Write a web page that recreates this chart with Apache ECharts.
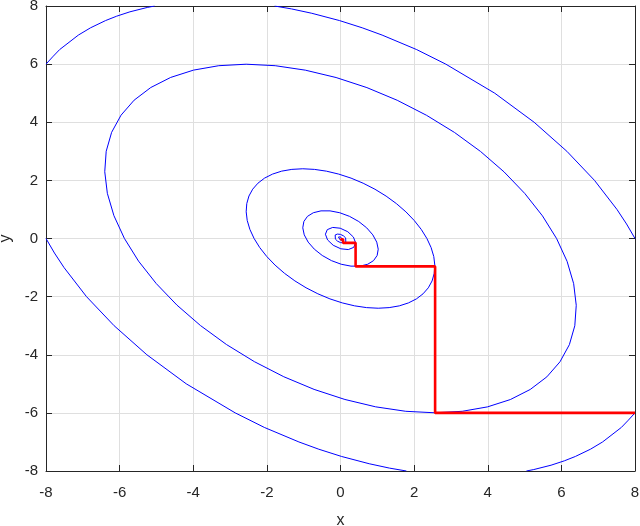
<!DOCTYPE html>
<html>
<head>
<meta charset="utf-8">
<title>Coordinate descent</title>
<script src="https://cdn.jsdelivr.net/npm/echarts@6/dist/echarts.min.js"></script>
<style>
  html, body { margin: 0; padding: 0; background: #fff; }
  #chart { width: 640px; height: 526px; }
</style>
</head>
<body>
<div id="chart"></div>
<script>
// axis ticks
const xTicks = [-8, -6, -4, -2, 0, 2, 4, 6, 8]
const yTicks = [-8, -6, -4, -2, 0, 2, 4, 6, 8]

// outermost level curve, cut into four arcs by the axes box
const outerArcA = [[8, 0], [7.77, 0.5], [7.51, 1], [6.9, 2], [6.15, 3], [5.26, 4], [4.19, 5], [2.86, 6], [2.07, 6.5], [1.13, 7], [0.59, 7.25], [-0.03, 7.5], [-0.78, 7.75], [-1.33, 7.9], [-1.79, 8]]
const outerArcB = [[8, -6], [7.82, -6.25], [7.63, -6.5], [7.12, -7], [6.79, -7.25], [6.38, -7.5], [6.08, -7.65], [5.72, -7.8], [5.25, -7.95], [5.05, -8]]
const outerArcC = [[-8, 0], [-7.77, -0.5], [-7.51, -1], [-6.9, -2], [-6.15, -3], [-5.26, -4], [-4.19, -5], [-2.86, -6], [-2.07, -6.5], [-1.13, -7], [-0.59, -7.25], [0.03, -7.5], [0.78, -7.75], [1.33, -7.9], [1.79, -8]]
const outerArcD = [[-8, 6], [-7.82, 6.25], [-7.63, 6.5], [-7.12, 7], [-6.79, 7.25], [-6.38, 7.5], [-6.08, 7.65], [-5.72, 7.8], [-5.25, 7.95], [-5.05, 8]]

// closed level curves, big to small
const level1 = [
  [5.606, -4.76], [5.962, -4.243], [6.217, -3.654], [6.365, -3.002], [6.404, -2.298], [6.334, -1.555],
  [6.155, -0.786], [5.871, -0.004], [5.486, 0.779], [5.007, 1.548], [4.443, 2.292], [3.803, 2.996],
  [3.098, 3.648], [2.339, 4.238], [1.541, 4.756], [0.717, 5.192], [-0.12, 5.539], [-0.955, 5.792],
  [-1.773, 5.946], [-2.562, 5.997], [-3.306, 5.946], [-3.993, 5.794], [-4.613, 5.542], [-5.154, 5.195],
  [-5.606, 4.76], [-5.962, 4.243], [-6.217, 3.654], [-6.365, 3.002], [-6.404, 2.298], [-6.334, 1.555],
  [-6.155, 0.786], [-5.871, 0.004], [-5.486, -0.779], [-5.007, -1.548], [-4.443, -2.292], [-3.803, -2.996],
  [-3.098, -3.648], [-2.339, -4.238], [-1.541, -4.756], [-0.717, -5.192], [0.12, -5.539], [0.955, -5.792],
  [1.773, -5.946], [2.562, -5.997], [3.306, -5.946], [3.993, -5.794], [4.613, -5.542], [5.154, -5.195],
  [5.606, -4.76]
]
const level2 = [
  [2.242, -1.904], [2.385, -1.697], [2.487, -1.462], [2.546, -1.201], [2.562, -0.919], [2.534, -0.622],
  [2.462, -0.314], [2.348, -0.002], [2.194, 0.312], [2.003, 0.619], [1.777, 0.917], [1.521, 1.198],
  [1.239, 1.459], [0.936, 1.695], [0.616, 1.902], [0.287, 2.077], [-0.048, 2.216], [-0.382, 2.317],
  [-0.709, 2.378], [-1.025, 2.399], [-1.322, 2.378], [-1.597, 2.318], [-1.845, 2.217], [-2.062, 2.078],
  [-2.242, 1.904], [-2.385, 1.697], [-2.487, 1.462], [-2.546, 1.201], [-2.562, 0.919], [-2.534, 0.622],
  [-2.462, 0.314], [-2.348, 0.002], [-2.194, -0.312], [-2.003, -0.619], [-1.777, -0.917], [-1.521, -1.198],
  [-1.239, -1.459], [-0.936, -1.695], [-0.616, -1.902], [-0.287, -2.077], [0.048, -2.216], [0.382, -2.317],
  [0.709, -2.378], [1.025, -2.399], [1.322, -2.378], [1.597, -2.318], [1.845, -2.217], [2.062, -2.078],
  [2.242, -1.904]
]
const level3 = [[0.897, -0.762], [0.995, -0.585], [1.025, -0.368], [0.985, -0.126], [0.878, 0.125], [0.711, 0.367], [0.496, 0.584], [0.247, 0.761], [-0.019, 0.886], [-0.284, 0.951], [-0.529, 0.951], [-0.738, 0.887], [-0.897, 0.762], [-0.995, 0.585], [-1.025, 0.368], [-0.985, 0.126], [-0.878, -0.125], [-0.711, -0.367], [-0.496, -0.584], [-0.247, -0.761], [0.019, -0.886], [0.284, -0.951], [0.529, -0.951], [0.738, -0.887], [0.897, -0.762]]
const level4 = [[0.359, -0.305], [0.41, -0.147], [0.351, 0.05], [0.198, 0.233], [-0.008, 0.354], [-0.212, 0.381], [-0.359, 0.305], [-0.41, 0.147], [-0.351, -0.05], [-0.198, -0.233], [0.008, -0.354], [0.212, -0.381], [0.359, -0.305]]
const level5 = [[0.144, -0.122], [0.164, -0.059], [0.14, 0.02], [0.079, 0.093], [-0.003, 0.142], [-0.085, 0.152], [-0.144, 0.122], [-0.164, 0.059], [-0.14, -0.02], [-0.079, -0.093], [0.003, -0.142], [0.085, -0.152], [0.144, -0.122]]
const level6 = [[0.057, -0.049], [0.056, 0.008], [-0.001, 0.057], [-0.057, 0.049], [-0.056, -0.008], [0.001, -0.057], [0.057, -0.049]]

// staircase path of the iterates
const pathPoints = [[8, -6], [2.57, -6], [2.57, -0.96], [0.41, -0.96], [0.41, -0.15], [0.07, -0.15], [0.07, -0.03], [0.01, -0.03], [0.01, 0]]

const font = 'Liberation Sans, Arial, Helvetica, sans-serif'
const axisColor = '#262626'

const curves = [outerArcA, outerArcB, outerArcC, outerArcD, level1, level2, level3, level4, level5, level6]

function mainAxis(name, ticks, pos) {
  var bottom = pos === 'bottom'
  return {
    type: 'value',
    position: pos,
    min: ticks[0],
    max: ticks[ticks.length - 1],
    interval: ticks[1] - ticks[0],
    name: name,
    nameLocation: 'middle',
    nameGap: bottom ? 42 : 28,
    nameRotate: bottom ? 0 : 90,
    nameTextStyle: { fontFamily: font, fontSize: 16, color: axisColor },
    axisLine: { show: true, onZero: false, lineStyle: { color: axisColor, width: 1 } },
    axisTick: { show: true, inside: true, length: 6, lineStyle: { color: axisColor } },
    axisLabel: { show: true, fontFamily: font, fontSize: 15, color: axisColor, margin: bottom ? 14 : 8 },
    splitLine: { show: true, lineStyle: { color: '#dfdfdf', width: 1 } }
  }
}

function boxAxis(ticks, pos) {
  return {
    type: 'value',
    position: pos,
    min: ticks[0],
    max: ticks[ticks.length - 1],
    interval: ticks[1] - ticks[0],
    axisLine: { show: true, onZero: false, lineStyle: { color: axisColor, width: 1 } },
    axisTick: { show: true, inside: true, length: 6, lineStyle: { color: axisColor } },
    axisLabel: { show: false },
    splitLine: { show: false }
  }
}

const series = curves.map(function(c) {
  return {
    type: 'line',
    data: c,
    showSymbol: false,
    silent: true,
    lineStyle: { color: '#0000ff', width: 1 }
  }
})
series.push({
  type: 'line',
  data: pathPoints,
  showSymbol: false,
  silent: true,
  lineStyle: { color: '#ff0000', width: 2.6 },
  z: 5
})

const chart = echarts.init(document.getElementById('chart'))
chart.setOption({
  animation: false,
  backgroundColor: '#fff',
  grid: { left: 46, right: 5, top: 6, bottom: 55, containLabel: false, outerBoundsMode: 'none' },
  xAxis: [mainAxis('x', xTicks, 'bottom'), boxAxis(xTicks, 'top')],
  yAxis: [mainAxis('y', yTicks, 'left'), boxAxis(yTicks, 'right')],
  series: series
})
</script>
</body>
</html>
